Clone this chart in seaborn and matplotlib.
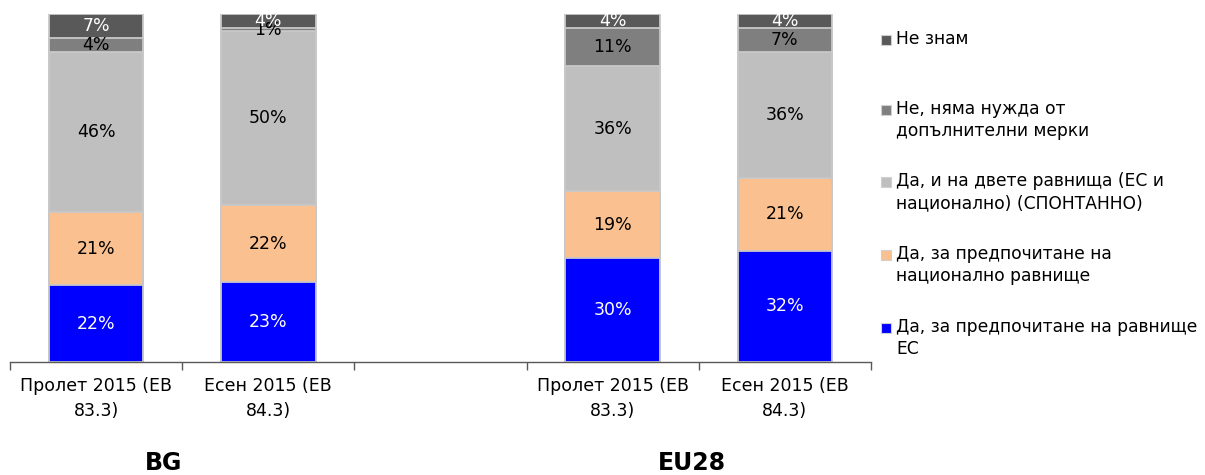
import matplotlib
matplotlib.use("Agg")
import matplotlib.pyplot as plt
from matplotlib.patches import Rectangle
import seaborn as sns
import pandas as pd
import numpy as np

# ---------------- data ----------------
periods = ["BG_spring", "BG_autumn", "gap", "EU_spring", "EU_autumn"]
period_labels = ["Пролет 2015 (ЕВ\n83.3)", "Есен 2015 (ЕВ\n84.3)", "",
                 "Пролет 2015 (ЕВ\n83.3)", "Есен 2015 (ЕВ\n84.3)"]
bar_keys = ["BG_spring", "BG_autumn", "EU_spring", "EU_autumn"]
group_labels = ["BG", "EU28"]

series_names = [
    "Да, за предпочитане на равнище\nЕС",
    "Да, за предпочитане на\nнационално равнище",
    "Да, и на двете равнища (ЕС и\nнационално) (СПОНТАННО)",
    "Не, няма нужда от\nдопълнителни мерки",
    "Не знам",
]
eu_level = [22, 23, 30, 32]
national = [21, 22, 19, 21]
both_levels = [46, 50, 36, 36]
no_need = [4, 1, 11, 7]
dont_know = [7, 4, 4, 4]
series_values = [eu_level, national, both_levels, no_need, dont_know]

colors = ["#0000FF", "#FAC090", "#BFBFBF", "#7F7F7F", "#595959"]
text_colors = ["white", "black", "black", "black", "white"]

# ---------------- figure ----------------
sns.set_style("white")
plt.rcParams["font.family"] = ["DejaVu Sans"]
plt.rcParams["text.color"] = "black"
plt.rcParams["xtick.color"] = "#595959"
plt.rcParams["xtick.labelcolor"] = "black"

FS = 12.5
fig = plt.figure(figsize=(12.05, 4.75), dpi=100)
W, H = 1205, 475
ax = fig.add_axes([10 / W, (H - 362) / H, 861 / W, 348 / H])

vals = np.array(series_values, dtype=float)  # shape (series, bars)
cum = np.cumsum(vals, axis=0)

# draw cumulative bars from top to bottom so lower segments overlay
for i in range(len(series_values) - 1, -1, -1):
    df = pd.DataFrame({"period": bar_keys, "value": cum[i]})
    sns.barplot(data=df, x="period", y="value", order=periods, color=colors[i],
                saturation=1, width=0.55, edgecolor="#C8C8C8", linewidth=1.3,
                ax=ax, errorbar=None)

# value labels
pos = {p: k for k, p in enumerate(periods)}
for i, s in enumerate(series_values):
    for j, key in enumerate(bar_keys):
        base = cum[i][j] - s[j]
        ax.text(pos[key], base + s[j] / 2, f"{s[j]}%", ha="center", va="center",
                color=text_colors[i], fontsize=FS)

ax.set_ylim(0, 100)
ax.set_xlim(-0.5, len(periods) - 0.5)
ax.set_xlabel("")
ax.set_ylabel("")
ax.set_yticks([])

# ticks: marks at boundaries, labels at centers
ax.set_xticks(np.arange(-0.5, len(periods)), labels=[""] * (len(periods) + 1))
ax.set_xticks(np.arange(len(periods)), labels=period_labels, minor=True)
ax.tick_params(axis="x", which="major", bottom=True, length=6, width=1,
               color="#595959", direction="out")
ax.tick_params(axis="x", which="minor", bottom=True, length=0, pad=11,
               labelsize=FS, labelcolor="black")
for lbl in ax.get_xticklabels(minor=True):
    lbl.set_linespacing(1.5)

for sp in ["top", "right", "left"]:
    ax.spines[sp].set_visible(False)
ax.spines["bottom"].set_color("#595959")
ax.spines["bottom"].set_linewidth(1)

# group labels
for g, xc in zip(group_labels, [164, 692]):
    fig.text(xc / W, 5 / H, g, ha="center", va="baseline",
             fontsize=17, fontweight="bold", color="black")

# legend (top entry = last series)
first_line_y = [40, 110, 182, 255, 328]
for k, i in enumerate(range(len(series_names) - 1, -1, -1)):
    yc = first_line_y[k]
    fig.patches.append(Rectangle((881 / W, 1 - (yc + 5) / H), 10 / W, 10 / H,
                                 transform=fig.transFigure, facecolor=colors[i],
                                 edgecolor="#D0D0D0", linewidth=0.8))
    fig.text(896 / W, 1 - (yc - 10) / H, series_names[i], ha="left", va="top",
             fontsize=12.3, linespacing=1.3, color="black")

fig.savefig("out.png", dpi=100)
